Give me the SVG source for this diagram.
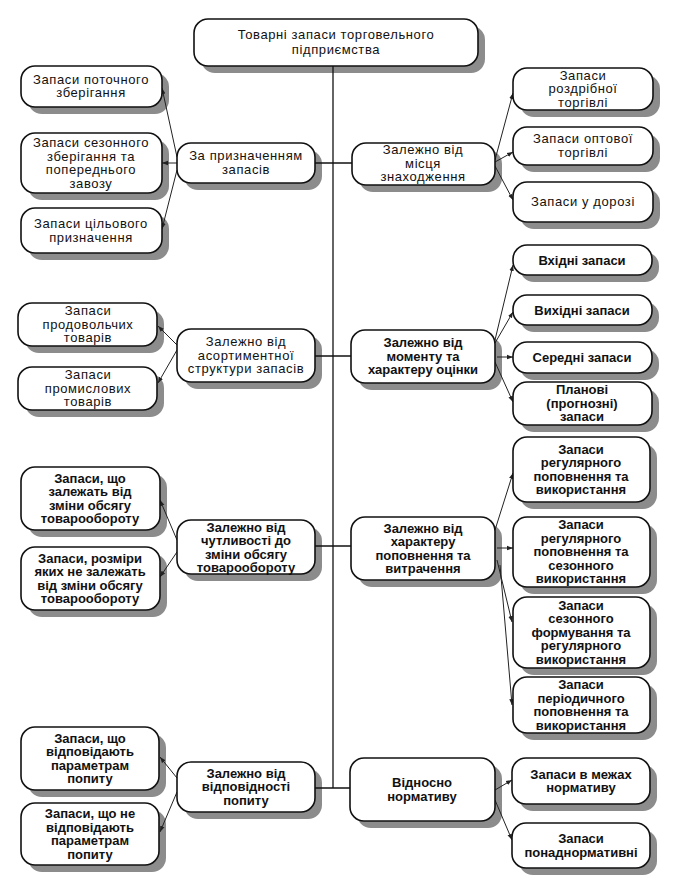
<svg xmlns="http://www.w3.org/2000/svg" width="676" height="894" viewBox="0 0 676 894">
<defs>
<pattern id="dots" width="3" height="3" patternUnits="userSpaceOnUse">
<rect width="3" height="3" fill="#cfcfcf"/>
<rect width="1.5" height="1.5" fill="#6e6e6e"/>
<rect x="1.5" y="1.5" width="1.5" height="1.5" fill="#6e6e6e"/>
</pattern>
<marker id="ah" viewBox="0 0 8 8" refX="8" refY="4" markerWidth="6" markerHeight="6" orient="auto">
<path d="M0,1 L8,4 L0,7 z" fill="#222"/>
</marker>
</defs>
<style>
.box{fill:#fff;stroke:#111;stroke-width:1.6}
text{font-family:"Liberation Sans",Arial,sans-serif;font-size:13px;fill:#111;text-anchor:middle}
.n{letter-spacing:0.6px}
.b{font-weight:bold}
.trunk{stroke:#111;stroke-width:1.3;fill:none}
.arr{stroke:#222;stroke-width:1;fill:none;marker-end:url(#ah)}
</style>
<rect width="676" height="894" fill="#fff"/>

<g id="shadows" stroke="none">
<path fill="#8c8c8c" d="M215,26 H471 A14,14 0 0 1 485,40 V59 A14,14 0 0 1 471,73 H215 A14,14 0 0 1 201,59 V40 A14,14 0 0 1 215,26 Z"/>
<rect x="184" y="150" width="138" height="40" rx="14" fill="#8c8c8c"/>
<rect x="28" y="73" width="141" height="41" rx="14" fill="#8c8c8c"/>
<rect x="28" y="140" width="141" height="60" rx="14" fill="#8c8c8c"/>
<rect x="28" y="215" width="141" height="45" rx="14" fill="#8c8c8c"/>
<rect x="184" y="336" width="138" height="53" rx="14" fill="#8c8c8c"/>
<rect x="25" y="310" width="139" height="43" rx="14" fill="#8c8c8c"/>
<rect x="25" y="374" width="139" height="43" rx="14" fill="#8c8c8c"/>
<rect x="184" y="527" width="138" height="54" rx="14" fill="#8c8c8c"/>
<rect x="28" y="474" width="139" height="63" rx="14" fill="#8c8c8c"/>
<rect x="28" y="554" width="139" height="63" rx="14" fill="#8c8c8c"/>
<rect x="184" y="769" width="138" height="50" rx="14" fill="#8c8c8c"/>
<rect x="28" y="734" width="138" height="63" rx="14" fill="#8c8c8c"/>
<rect x="28" y="810" width="138" height="62" rx="14" fill="#8c8c8c"/>
<rect x="359" y="150" width="143" height="42" rx="14" fill="#8c8c8c"/>
<rect x="520" y="75" width="140" height="42" rx="14" fill="#8c8c8c"/>
<rect x="520" y="134" width="140" height="38" rx="14" fill="#8c8c8c"/>
<rect x="520" y="189" width="140" height="40" rx="14" fill="#8c8c8c"/>
<rect x="358" y="337" width="144" height="53" rx="14" fill="#8c8c8c"/>
<rect x="520" y="252" width="139" height="30" rx="14" fill="#8c8c8c"/>
<rect x="520" y="302" width="139" height="30" rx="14" fill="#8c8c8c"/>
<rect x="520" y="349" width="139" height="31" rx="14" fill="#8c8c8c"/>
<rect x="520" y="389" width="139" height="43" rx="14" fill="#8c8c8c"/>
<rect x="358" y="524" width="144" height="63" rx="14" fill="#8c8c8c"/>
<rect x="520" y="444" width="137" height="65" rx="14" fill="#8c8c8c"/>
<rect x="520" y="524" width="137" height="70" rx="14" fill="#8c8c8c"/>
<rect x="520" y="604" width="137" height="71" rx="14" fill="#8c8c8c"/>
<rect x="520" y="684" width="137" height="56" rx="14" fill="#8c8c8c"/>
<rect x="357" y="765" width="145" height="63" rx="14" fill="#8c8c8c"/>
<rect x="519" y="765" width="138" height="46" rx="14" fill="#8c8c8c"/>
<rect x="519" y="830" width="138" height="45" rx="14" fill="#8c8c8c"/>
</g>

<g id="connectors">
<line class="trunk" x1="333" y1="66" x2="333" y2="788"/>
<line class="trunk" x1="315" y1="163" x2="352" y2="163"/>
<line class="trunk" x1="315" y1="356" x2="351" y2="356"/>
<line class="trunk" x1="315" y1="546" x2="351" y2="546"/>
<line class="trunk" x1="315" y1="788" x2="350" y2="788"/>
<line class="arr" x1="177" y1="157" x2="162" y2="88"/>
<line class="arr" x1="177" y1="163" x2="162" y2="163"/>
<line class="arr" x1="177" y1="170" x2="162" y2="229"/>
<line class="arr" x1="177" y1="345" x2="158" y2="326"/>
<line class="arr" x1="177" y1="350" x2="158" y2="383"/>
<line class="arr" x1="177" y1="540" x2="160" y2="500"/>
<line class="arr" x1="177" y1="552" x2="160" y2="577"/>
<line class="arr" x1="177" y1="778" x2="160" y2="757"/>
<line class="arr" x1="177" y1="792" x2="160" y2="832"/>
<line class="arr" x1="495" y1="160" x2="513" y2="93"/>
<line class="arr" x1="495" y1="162" x2="513" y2="152"/>
<line class="arr" x1="495" y1="166" x2="513" y2="200"/>
<line class="arr" x1="495" y1="340" x2="513" y2="265"/>
<line class="arr" x1="495" y1="343" x2="513" y2="312"/>
<line class="arr" x1="497" y1="357" x2="513" y2="357"/>
<line class="arr" x1="495" y1="362" x2="513" y2="402"/>
<line class="arr" x1="495" y1="530" x2="513" y2="473"/>
<line class="arr" x1="497" y1="548" x2="513" y2="548"/>
<line class="arr" x1="497" y1="560" x2="512" y2="622"/>
<line class="arr" x1="500" y1="565" x2="512" y2="705"/>
<line class="arr" x1="495" y1="790" x2="512" y2="780"/>
<line class="arr" x1="495" y1="800" x2="512" y2="840"/>
</g>

<g id="title">
<rect class="box" x="194" y="19" width="284" height="47" rx="14"/>
<text class="n"><tspan x="336" y="39">Товарні запаси торговельного</tspan><tspan x="336" y="54">підприємства</tspan></text>
</g>

<g id="l1">
<rect class="box" x="177" y="143" width="138" height="40" rx="14"/>
<text class="n"><tspan x="246" y="160">За призначенням</tspan><tspan x="246" y="174">запасів</tspan></text>
</g>
<g id="l1a">
<rect class="box" x="21" y="66" width="141" height="41" rx="14"/>
<text class="n"><tspan x="91" y="83.5">Запаси поточного</tspan><tspan x="91" y="97">зберігання</tspan></text>
</g>
<g id="l1b">
<rect class="box" x="21" y="133" width="141" height="60" rx="14"/>
<text class="n"><tspan x="91" y="147">Запаси сезонного</tspan><tspan x="91" y="160.5">зберігання та</tspan><tspan x="91" y="174">попереднього</tspan><tspan x="91" y="187.5">завозу</tspan></text>
</g>
<g id="l1c">
<rect class="box" x="21" y="208" width="141" height="45" rx="14"/>
<text class="n"><tspan x="91" y="228">Запаси цільового</tspan><tspan x="91" y="241.5">призначення</tspan></text>
</g>

<g id="l2">
<rect class="box" x="177" y="329" width="138" height="53" rx="14"/>
<text class="n"><tspan x="246" y="346">Залежно від</tspan><tspan x="246" y="359.5">асортиментної</tspan><tspan x="246" y="373">структури запасів</tspan></text>
</g>
<g id="l2a">
<rect class="box" x="18" y="303" width="139" height="43" rx="14"/>
<text class="n"><tspan x="88" y="315">Запаси</tspan><tspan x="88" y="328.5">продовольчих</tspan><tspan x="88" y="342">товарів</tspan></text>
</g>
<g id="l2b">
<rect class="box" x="18" y="367" width="139" height="43" rx="14"/>
<text class="n"><tspan x="88" y="379">Запаси</tspan><tspan x="88" y="392.5">промислових</tspan><tspan x="88" y="406">товарів</tspan></text>
</g>

<g id="l3">
<rect class="box" x="177" y="520" width="138" height="54" rx="14"/>
<text class="b"><tspan x="246" y="531.5">Залежно від</tspan><tspan x="246" y="545">чутливості до</tspan><tspan x="246" y="558.5">зміни обсягу</tspan><tspan x="246" y="572">товарообороту</tspan></text>
</g>
<g id="l3a">
<rect class="box" x="21" y="467" width="139" height="63" rx="14"/>
<text class="b"><tspan x="90" y="482.5">Запаси, що</tspan><tspan x="90" y="496">залежать від</tspan><tspan x="90" y="509.5">зміни обсягу</tspan><tspan x="90" y="523">товарообороту</tspan></text>
</g>
<g id="l3b">
<rect class="box" x="21" y="547" width="139" height="63" rx="14"/>
<text class="b"><tspan x="90" y="562.5">Запаси, розміри</tspan><tspan x="90" y="576">яких не залежать</tspan><tspan x="90" y="589.5">від зміни обсягу</tspan><tspan x="90" y="603">товарообороту</tspan></text>
</g>

<g id="l4">
<rect class="box" x="177" y="762" width="138" height="50" rx="14"/>
<text class="b"><tspan x="246" y="777.5">Залежно від</tspan><tspan x="246" y="791">відповідності</tspan><tspan x="246" y="804.5">попиту</tspan></text>
</g>
<g id="l4a">
<rect class="box" x="21" y="727" width="138" height="63" rx="14"/>
<text class="b"><tspan x="90" y="742.5">Запаси, що</tspan><tspan x="90" y="756">відповідають</tspan><tspan x="90" y="769.5">параметрам</tspan><tspan x="90" y="783">попиту</tspan></text>
</g>
<g id="l4b">
<rect class="box" x="21" y="803" width="138" height="62" rx="14"/>
<text class="b"><tspan x="90" y="818">Запаси, що не</tspan><tspan x="90" y="831.5">відповідають</tspan><tspan x="90" y="845">параметрам</tspan><tspan x="90" y="858.5">попиту</tspan></text>
</g>

<g id="r1">
<rect class="box" x="352" y="143" width="143" height="42" rx="14"/>
<text class="n"><tspan x="423" y="154">Залежно від</tspan><tspan x="423" y="167.5">місця</tspan><tspan x="423" y="181">знаходження</tspan></text>
</g>
<g id="r1a">
<rect class="box" x="513" y="68" width="140" height="42" rx="14"/>
<text class="n"><tspan x="583" y="79.5">Запаси</tspan><tspan x="583" y="93">роздрібної</tspan><tspan x="583" y="106.5">торгівлі</tspan></text>
</g>
<g id="r1b">
<rect class="box" x="513" y="127" width="140" height="38" rx="14"/>
<text class="n"><tspan x="583" y="143">Запаси оптової</tspan><tspan x="583" y="156.5">торгівлі</tspan></text>
</g>
<g id="r1c">
<rect class="box" x="513" y="182" width="140" height="40" rx="14"/>
<text class="n"><tspan x="583" y="206">Запаси у дорозі</tspan></text>
</g>

<g id="r2">
<rect class="box" x="351" y="330" width="144" height="53" rx="14"/>
<text class="b"><tspan x="423" y="347">Залежно від</tspan><tspan x="423" y="360.5">моменту та</tspan><tspan x="423" y="374">характеру оцінки</tspan></text>
</g>
<g id="r2a">
<rect class="box" x="513" y="245" width="139" height="30" rx="14"/>
<text class="b"><tspan x="582" y="264.5">Вхідні запаси</tspan></text>
</g>
<g id="r2b">
<rect class="box" x="513" y="295" width="139" height="30" rx="14"/>
<text class="b"><tspan x="582" y="314.5">Вихідні запаси</tspan></text>
</g>
<g id="r2c">
<rect class="box" x="513" y="342" width="139" height="31" rx="14"/>
<text class="b"><tspan x="582" y="362">Середні запаси</tspan></text>
</g>
<g id="r2d">
<rect class="box" x="513" y="382" width="139" height="43" rx="14"/>
<text class="b"><tspan x="582" y="394">Планові</tspan><tspan x="582" y="407.5">(прогнозні)</tspan><tspan x="582" y="421">запаси</tspan></text>
</g>

<g id="r3">
<rect class="box" x="351" y="517" width="144" height="63" rx="14"/>
<text class="b"><tspan x="423" y="532.5">Залежно від</tspan><tspan x="423" y="546">характеру</tspan><tspan x="423" y="559.5">поповнення та</tspan><tspan x="423" y="573">витрачення</tspan></text>
</g>
<g id="r3a">
<rect class="box" x="513" y="437" width="137" height="65" rx="14"/>
<text class="b"><tspan x="581" y="453.5">Запаси</tspan><tspan x="581" y="467">регулярного</tspan><tspan x="581" y="480.5">поповнення та</tspan><tspan x="581" y="494">використання</tspan></text>
</g>
<g id="r3b">
<rect class="box" x="513" y="517" width="137" height="70" rx="14"/>
<text class="b"><tspan x="581" y="529">Запаси</tspan><tspan x="581" y="542.5">регулярного</tspan><tspan x="581" y="556">поповнення та</tspan><tspan x="581" y="569.5">сезонного</tspan><tspan x="581" y="583">використання</tspan></text>
</g>
<g id="r3c">
<rect class="box" x="513" y="597" width="137" height="71" rx="14"/>
<text class="b"><tspan x="581" y="609.5">Запаси</tspan><tspan x="581" y="623">сезонного</tspan><tspan x="581" y="636.5">формування та</tspan><tspan x="581" y="650">регулярного</tspan><tspan x="581" y="663.5">використання</tspan></text>
</g>
<g id="r3d">
<rect class="box" x="513" y="677" width="137" height="56" rx="14"/>
<text class="b"><tspan x="581" y="689">Запаси</tspan><tspan x="581" y="702.5">періодичного</tspan><tspan x="581" y="716">поповнення та</tspan><tspan x="581" y="729.5">використання</tspan></text>
</g>

<g id="r4">
<rect class="box" x="350" y="758" width="145" height="63" rx="14"/>
<text class="b"><tspan x="422" y="787">Відносно</tspan><tspan x="422" y="800.5">нормативу</tspan></text>
</g>
<g id="r4a">
<rect class="box" x="512" y="758" width="138" height="46" rx="14"/>
<text class="b"><tspan x="581" y="778.5">Запаси  в межах</tspan><tspan x="581" y="792">нормативу</tspan></text>
</g>
<g id="r4b">
<rect class="box" x="512" y="823" width="138" height="45" rx="14"/>
<text class="b"><tspan x="581" y="843">Запаси</tspan><tspan x="581" y="856.5">понаднормативні</tspan></text>
</g>
</svg>
